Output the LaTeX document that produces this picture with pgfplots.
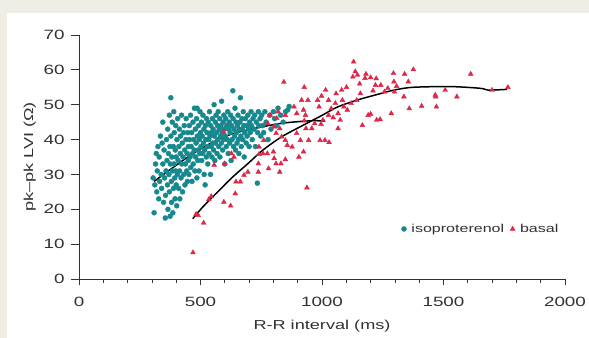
\documentclass[border=0pt]{standalone}
\usepackage{fontspec}
\setmainfont{Liberation Sans}[FakeStretch=1.4]
\usepackage{pgfplots}
\pgfplotsset{compat=1.18}
\definecolor{teal1}{RGB}{22,136,142}
\definecolor{red1}{RGB}{222,40,72}
\definecolor{beige}{RGB}{240,238,228}
\definecolor{txt}{RGB}{50,50,50}
\begin{document}
\begin{tikzpicture}
\fill[beige] (-79bp,-59bp) rectangle (510bp,279bp);
\fill[white] (-72bp,-59bp) rectangle (510bp,266bp);
\useasboundingbox (-79bp,-59bp) rectangle (510bp,279bp);
\begin{axis}[
  scale only axis, width=486bp, height=244bp,
  xmin=0, xmax=2000, ymin=0, ymax=70,
  axis lines=left, axis line style={txt, line width=0.9pt, -},
  xtick={0,500,...,2000}, minor xtick={100,200,...,1900},
  ytick={0,10,...,70},
  tick align=outside, tick style={txt, line width=0.8pt},
  major tick length=6bp, minor tick length=4bp,
  ytick style={/pgfplots/major tick length=8bp},
  /pgf/number format/assume math mode=true,
  /pgf/number format/1000 sep={},
  ticklabel style={font=\fontsize{13.5}{15}\selectfont, text=txt},
  xticklabel style={yshift=-9bp},
  yticklabel style={xshift=-5bp},
  xlabel={R-R interval (ms)}, ylabel={pk–pk LVI (Ω)},
  label style={font=\fontsize{13}{15}\selectfont, text=txt},
  xlabel style={yshift=-6bp},
  ylabel style={yshift=1bp},
  legend style={draw=none, fill=none, at={(0.657,0.205)}, anchor=west,
    font=\fontsize{11.5}{13}\selectfont, text=txt, legend columns=2,
    /tikz/every odd column/.append style={column sep=3bp},
    /tikz/every even column/.append style={column sep=4bp}},
  legend cell align=left,
  clip=false,
]
\addplot[only marks, mark=*, mark size=2.5bp, color=teal1, mark options={draw=teal1, fill=teal1}] table {
305 29
309 19
312 27
315 33
318 36
320 25
322 31
325 38
328 23
330 35
332 28
335 41
338 30
340 26
342 39
345 45
345 33
348 22
350 37
352 29
355 17.5
356 24
358 31
360 40
362 34
364 27
365 43
366 20
368 36
370 30
372 47
372 25
374 38
375 18
376 33
378 52
378 41
380 28
381 22
382 35
384 45
385 31
386 19
388 38
389 26
390 48
391 33
392 42
394 29
395 23
396 37
398 44
398 31
400 35
400 27
402 21
403 40
405 30
406 46
408 34
410 26
411 38
413 43
414 31
415 23
417 36
418 41
420 29
422 47
423 33
425 39
426 25
428 35
430 42
431 30
433 44
435 37
436 27
438 33
440 40
441 46
443 31
445 36
446 28
448 42
450 34
450 38
452 30
454 44
455 40
457 35
459 47
460 32
462 38
464 42
465 28
467 36
469 45
470 33
472 40
474 37
475 49
477 31
479 43
480 35
482 39
484 46
485 29
486 49
487 41
489 34
490 37
492 44
494 31
495 40
497 36
498 48
500 42
502 38
504 45
505 34
507 41
509 36
510 47
512 39
514 43
515 30
517 37
519 27
520 44
522 40
524 35
525 46
527 42
529 38
530 33
532 45
534 40
535 36
537 48
539 41
541 30
542 44
544 38
545 42
547 35
549 46
550 39
552 43
554 37
556 50
557 41
559 34
561 45
562 39
564 47
566 42
568 36
570 44
571 40
573 48
575 38
577 43
579 46
580 35
582 41
584 44
586 39
587 51
589 42
591 37
593 45
595 40
596 47
598 43
600 33
602 41
604 46
606 38
608 44
610 40
612 48
614 36
616 43
618 45
620 39
622 42
624 47
626 34
628 44
630 40
633 54
634 46
636 38
638 43
640 41
642 49
644 37
646 45
648 42
650 39
652 44
654 47
656 40
658 36
660 43
662 45
664 52
666 41
668 38
670 46
672 43
674 40
676 48
678 44
680 35
682 42
685 46
688 39
690 44
692 41
695 47
698 43
700 38
702 45
705 42
708 48
710 44
713 40
716 46
720 43
723 47
726 38
730 45
734 27.5
735 42
738 48
740 44
745 46
748 41
752 47
756 44
760 42
765 48
770 45
778 40
785 47
790 43
800 48
805 46
812 44
819 49
830 47
840 45
850 48
859 48.5
865 49.5
};
\addlegendentry{isoproterenol}
\addplot[only marks, mark=triangle*, mark size=2.8bp, color=red1, mark options={draw=red1, fill=red1}] table {
469 7.6
482 18.6
490 18.3
513 16.1
534 22.8
544 23.7
556 32.7
596 22.1
599 33.1
595 42.2
624 21
627 36
638 35
643 24.5
646 27.9
664 27.9
679 29.8
695 30.7
738 30.7
738 33.1
741 35.8
741 37.9
757 36
760 39.8
775 36
777 44.6
780 31.7
786 47
800 36.5
803 34.6
803 43.7
811 41.8
811 33.1
814 46.1
819 48
826 43.2
826 30.7
831 33.1
834 40.8
843 56.5
849 47
849 39.8
849 34.3
857 38.4
877 37.9
885 49.4
896 47.5
896 41.8
905 35
911 39.8
916 51.3
924 48.5
924 36.5
927 55
927 45.4
932 47
934 43.2
938 26.2
942 51.3
945 39.8
958 43.2
970 44.6
982 51.3
988 49.4
992 39.8
996 44.4
998 52.5
1004 45.6
1012 39.8
1015 54.2
1027 51.3
1027 47
1029 39.2
1038 48.9
1046 46.3
1055 50.4
1058 53.2
1066 47.5
1066 43.2
1075 45.6
1081 54.2
1084 51.3
1090 49.4
1101 55
1104 48.5
1120 50.4
1127 58
1130 62.3
1137 59.5
1143 51.3
1146 58.5
1158 53.2
1155 56
1166 44.1
1177 57.6
1181 58.8
1190 47
1200 57.8
1200 47.3
1210 54
1220 55.6
1223 57.5
1225 45.6
1239 45.8
1242 55.6
1257 53.7
1271 54.7
1285 47.5
1294 59
1296 56.6
1298 53.7
1307 55.3
1337 52.3
1340 58.8
1355 56.6
1359 48.9
1376 60.1
1410 49.6
1466 52.8
1468 52.3
1471 49.4
1507 54.2
1555 52.3
1612 58.8
1700 54.2
1765 55
};
\addlegendentry{basal}
\addplot[black, line width=1.5pt, smooth, forget plot] coordinates {
(309,28) (448,35) (541,38.9) (633,41.7) (757,43.7) (849,44.8) (958,45.4) (1012,45.3)
};
\addplot[black, line width=1.5pt, smooth, forget plot] coordinates {
(468,17.3) (510,20.7) (571,25) (633,29.3) (695,33.1) (757,37) (834,40.8) (911,43.7) (988,46.5) (1066,49.4) (1143,51.3) (1220,52.8) (1297,54.2) (1375,55) (1529,55.2) (1653,54.7) (1683,54.2) (1761,54.4)
};
\end{axis}
\end{tikzpicture}
\end{document}
